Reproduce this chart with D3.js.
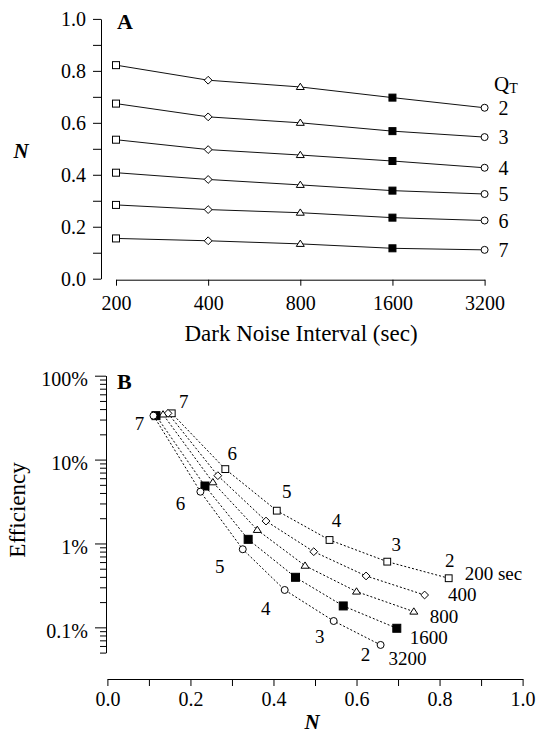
<!DOCTYPE html>
<html><head><meta charset="utf-8">
<script src="https://cdn.jsdelivr.net/npm/d3@7"></script>
<style>body{margin:0;background:#fff} text{font-family:"Liberation Serif","Times New Roman",serif;fill:#000}</style>
</head><body>
<svg id="c" width="538" height="734"></svg>
<script>
// ---------------- DATA ----------------
const intervals = [200, 400, 800, 1600, 3200];          // dark noise interval (sec)
const qtLevels  = [2, 3, 4, 5, 6, 7];                   // threshold Q_T
// Panel A: N for each Q_T across intervals
const nQT2 = [0.822, 0.764, 0.738, 0.697, 0.658];
const nQT3 = [0.674, 0.623, 0.600, 0.568, 0.545];
const nQT4 = [0.535, 0.497, 0.476, 0.453, 0.427];
const nQT5 = [0.408, 0.382, 0.361, 0.339, 0.326];
const nQT6 = [0.284, 0.266, 0.254, 0.235, 0.224];
const nQT7 = [0.155, 0.146, 0.134, 0.117, 0.111];
// Panel B: efficiency (%) for each interval, Q_T = 2..7
const eff200  = [0.385, 0.607, 1.10, 2.46, 7.7, 35.6];
const eff400  = [0.243, 0.410, 0.798, 1.85, 6.43, 35.6];
const eff800  = [0.154, 0.267, 0.543, 1.45, 5.36, 34.5];
const eff1600 = [0.0975, 0.180, 0.395, 1.12, 4.84, 33.4];
const eff3200 = [0.0617, 0.119, 0.279, 0.853, 4.14, 33.4];
const seriesLabelsB = ["200 sec", "400", "800", "1600", "3200"];
const yTicksA = [0, 0.2, 0.4, 0.6, 0.8, 1.0];
const yTicksB = [0.1, 1, 10, 100];
const xTicksB = [0, 0.2, 0.4, 0.6, 0.8, 1.0];

const nByQT = [nQT2, nQT3, nQT4, nQT5, nQT6, nQT7];
const effByInterval = [eff200, eff400, eff800, eff1600, eff3200];
const shapes = ["square", "diamond", "triangle", "filled", "circle"];

// ---------------- LAYOUT ----------------
const svg = d3.select("#c");
const FS = 20, FSB = 19;

function marker(g, shape, x, y, s) {
  if (shape === "square" || shape === "filled") {
    g.append("rect").attr("x", x - s/2).attr("y", y - s/2).attr("width", s).attr("height", s)
      .attr("fill", shape === "filled" ? "#000" : "#fff").attr("stroke", "#000").attr("stroke-width", 1);
  } else if (shape === "circle") {
    g.append("circle").attr("cx", x).attr("cy", y).attr("r", s/2)
      .attr("fill", "#fff").attr("stroke", "#000").attr("stroke-width", 1);
  } else if (shape === "diamond") {
    const r = s/2 + 0.4;
    g.append("path").attr("d", `M${x},${y-r}L${x+r},${y}L${x},${y+r}L${x-r},${y}Z`)
      .attr("fill", "#fff").attr("stroke", "#000").attr("stroke-width", 1);
  } else if (shape === "triangle") {
    const w = s + 1, h = s * 0.9;
    g.append("path").attr("d", `M${x},${y-h*0.6}L${x+w/2},${y+h*0.4}L${x-w/2},${y+h*0.4}Z`)
      .attr("fill", "#fff").attr("stroke", "#000").attr("stroke-width", 1);
  }
}

// ================= PANEL A =================
const xA = d3.scaleLog().base(2).domain([200, 3200]).range([116, 484.6]);
const yA = d3.scaleLinear().domain([0, 1]).range([278.7, 18.9]);
const gA = svg.append("g");

const yAxA = gA.append("g").attr("transform", "translate(101,0)")
  .call(d3.axisLeft(yA).tickValues(d3.range(0, 1.0001, 0.1)).tickSize(8).tickSizeOuter(0).tickPadding(7)
    .tickFormat(d => yTicksA.some(t => Math.abs(t - d) < 1e-6) ? d3.format(".1f")(d) : ""));
const xAxA = gA.append("g").attr("transform", "translate(0,279.7)")
  .call(d3.axisBottom(xA).tickValues(intervals).tickSize(6).tickSizeOuter(0).tickPadding(10.5)
    .tickFormat(d3.format("d")));
[yAxA, xAxA].forEach(a => {
  a.selectAll("text").style("font-size", FS + "px").style("font-family", '"Liberation Serif",serif').attr("fill", "#000");
  a.selectAll("line,path").attr("stroke", "#000").attr("stroke-width", 1);
});

const lineA = d3.line().x((d, i) => xA(intervals[i])).y(d => yA(d));
nByQT.forEach((vals) => {
  gA.append("path").attr("d", lineA(vals)).attr("fill", "none").attr("stroke", "#111").attr("stroke-width", 1);
});
nByQT.forEach((vals, qi) => {
  vals.forEach((v, i) => marker(gA, shapes[i], xA(intervals[i]), yA(v), 7));
  gA.append("text").attr("x", xA(3200) + 14).attr("y", yA(vals[4])).attr("dy", "0.36em")
    .style("font-size", FS + "px").text(qtLevels[qi]);
});
const qt = gA.append("text").attr("x", 494).attr("y", 90.5).style("font-size", "21px");
qt.append("tspan").text("Q");
qt.append("tspan").attr("dy", 2).style("font-size", "14px").text("T");

gA.append("text").attr("x", 117).attr("y", 28.5).style("font-size", "22px").style("font-weight", "bold").text("A");
gA.append("text").attr("x", 13.5).attr("y", 158).style("font-size", "21px").style("font-weight", "bold")
  .style("font-style", "italic").text("N");
gA.append("text").attr("x", 301).attr("y", 340.5).attr("text-anchor", "middle").style("font-size", "23px")
  .text("Dark Noise Interval (sec)");

// ================= PANEL B =================
const xB = d3.scaleLinear().domain([0, 1]).range([107.4, 522.6]);
const yB = d3.scaleLog().domain([0.05, 100]).range([652.6, 375.7]);
const gB = svg.append("g");

const minorB = [];
[0.01, 0.1, 1, 10].forEach(dec => { for (let k = 2; k <= 9; k++) { const v = dec * k; if (v >= 0.05 - 1e-9) minorB.push(v); } });
const axXB = 106;
const mnr = gB.append("g").attr("transform", `translate(${axXB},0)`)
  .call(d3.axisLeft(yB).tickValues(minorB).tickSize(6).tickSizeOuter(0).tickFormat(""));
const mjr = gB.append("g").attr("transform", `translate(${axXB},0)`)
  .call(d3.axisLeft(yB).tickValues(yTicksB).tickSize(11).tickSizeOuter(0).tickPadding(7)
    .tickFormat(d => (d < 1 ? d3.format(".1f")(d) : d3.format("d")(d)) + "%"));
mjr.selectAll("text").attr("dy", "0.49em");
const xAxB = gB.append("g").attr("transform", "translate(0,679)")
  .call(d3.axisBottom(xB).tickValues(d3.range(0, 1.0001, 0.1)).tickSize(7).tickSizeOuter(0).tickPadding(5.5)
    .tickFormat(d => xTicksB.some(t => Math.abs(t - d) < 1e-6) ? d3.format(".1f")(d) : ""));
[mnr, mjr, xAxB].forEach(a => {
  a.selectAll("text").style("font-size", FS + "px").style("font-family", '"Liberation Serif",serif').attr("fill", "#000");
  a.selectAll("line,path").attr("stroke", "#000").attr("stroke-width", 1);
});

const markerSizeB = [6.8, 7, 7, 8, 7];
effByInterval.forEach((effs, si) => {
  const pts = effs.map((e, qi) => [xB(nByQT[qi][si]), yB(e)]);
  gB.append("path").attr("d", d3.line()(pts)).attr("fill", "none").attr("stroke", "#000")
    .attr("stroke-width", 1).attr("stroke-dasharray", "2,2");
});
effByInterval.forEach((effs, si) => {
  effs.forEach((e, qi) => marker(gB, shapes[si], xB(nByQT[qi][si]), yB(e), markerSizeB[si]));
});

const seriesLabelOffsets = [[16, -5], [23.5, 0], [16, 4.5], [13, 9], [8, 13.5]];
effByInterval.forEach((effs, si) => {
  const [dx, dy] = seriesLabelOffsets[si];
  gB.append("text").attr("x", xB(nByQT[0][si]) + dx).attr("y", yB(effs[0]) + dy).attr("dy", "0.34em")
    .style("font-size", FSB + "px").text(seriesLabelsB[si]);
});
const upperOffsets = [[1, -18], [9, -17], [7, -19], [10, -19], [7, -16], [12, -12]];
const lowerOffsets = [[-15, 10], [-14, 16], [-19, 19], [-23, 17], [-20, 12], [-14, 8]];
qtLevels.forEach((q, qi) => {
  const [ux, uy] = upperOffsets[qi];
  gB.append("text").attr("x", xB(nByQT[qi][0]) + ux).attr("y", yB(eff200[qi]) + uy).attr("dy", "0.34em")
    .attr("text-anchor", "middle").style("font-size", FSB + "px").text(q);
  const [lx, ly] = lowerOffsets[qi];
  gB.append("text").attr("x", xB(nByQT[qi][4]) + lx).attr("y", yB(eff3200[qi]) + ly).attr("dy", "0.34em")
    .attr("text-anchor", "middle").style("font-size", FSB + "px").text(q);
});

gB.append("text").attr("x", 117).attr("y", 389).style("font-size", "22px").style("font-weight", "bold").text("B");
gB.append("text").attr("transform", "translate(25,510) rotate(-90)").attr("text-anchor", "middle")
  .style("font-size", "23px").text("Efficiency");
gB.append("text").attr("x", 312).attr("y", 728.5).attr("text-anchor", "middle").style("font-size", "21px")
  .style("font-weight", "bold").style("font-style", "italic").text("N");
</script>
</body></html>
